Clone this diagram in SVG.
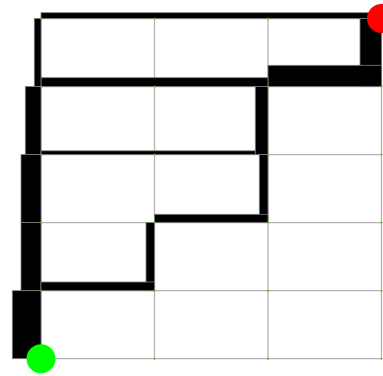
<svg xmlns="http://www.w3.org/2000/svg" width="383" height="376" viewBox="0 0 383 376">
  <style>
    .grid line { stroke: #b4b4b4; stroke-width: 1.3; }
    .wall { fill: #000; stroke: #808080; stroke-width: 0.8; }
    .dot { fill: #33cc00; }
  </style>
  <rect width="383" height="376" fill="#fff"/>
  <g id="grid" class="grid">
    <line x1="41" y1="18.5" x2="41" y2="358.7"/>
    <line x1="154.5" y1="18.5" x2="154.5" y2="358.7"/>
    <line x1="268" y1="18.5" x2="268" y2="358.7"/>
    <line x1="381.5" y1="18.5" x2="381.5" y2="358.7"/>
    <line x1="41" y1="18.5" x2="381.5" y2="18.5"/>
    <line x1="41" y1="86.5" x2="381.5" y2="86.5"/>
    <line x1="41" y1="154.6" x2="381.5" y2="154.6"/>
    <line x1="41" y1="222.6" x2="381.5" y2="222.6"/>
    <line x1="41" y1="290.7" x2="381.5" y2="290.7"/>
    <line x1="41" y1="358.7" x2="381.5" y2="358.7"/>
  </g>
  <g id="connectors">
    <rect class="wall" x="41" y="12.7" width="340.5" height="5.8"/>
    <rect class="wall" x="360" y="18.5" width="21.5" height="68"/>
    <rect class="wall" x="268" y="65.3" width="113.5" height="21.2"/>
    <rect class="wall" x="41" y="77.7" width="227" height="8.8"/>
    <rect class="wall" x="34.3" y="18.5" width="6.7" height="68"/>
    <rect class="wall" x="25.3" y="86.5" width="15.7" height="68.1"/>
    <rect class="wall" x="21" y="154.6" width="20" height="68"/>
    <rect class="wall" x="21" y="222.6" width="20" height="68.1"/>
    <rect class="wall" x="12.3" y="290.7" width="28.7" height="68"/>
    <rect class="wall" x="41" y="150.8" width="227" height="3.8"/>
    <rect class="wall" x="255.3" y="86.5" width="12.7" height="68.1"/>
    <rect class="wall" x="259.3" y="154.6" width="8.7" height="68"/>
    <rect class="wall" x="154.5" y="214.3" width="113.5" height="8.3"/>
    <rect class="wall" x="146" y="222.6" width="8.5" height="68.1"/>
    <rect class="wall" x="41" y="282" width="113.5" height="8.7"/>
  </g>
  <g id="points">
    <circle class="dot" cx="41" cy="18.5" r="1"/><circle class="dot" cx="154.5" cy="18.5" r="1"/><circle class="dot" cx="268" cy="18.5" r="1"/><circle class="dot" cx="381.5" cy="18.5" r="1"/>
    <circle class="dot" cx="41" cy="86.5" r="1"/><circle class="dot" cx="154.5" cy="86.5" r="1"/><circle class="dot" cx="268" cy="86.5" r="1"/><circle class="dot" cx="381.5" cy="86.5" r="1"/>
    <circle class="dot" cx="41" cy="154.6" r="1"/><circle class="dot" cx="154.5" cy="154.6" r="1"/><circle class="dot" cx="268" cy="154.6" r="1"/><circle class="dot" cx="381.5" cy="154.6" r="1"/>
    <circle class="dot" cx="41" cy="222.6" r="1"/><circle class="dot" cx="154.5" cy="222.6" r="1"/><circle class="dot" cx="268" cy="222.6" r="1"/><circle class="dot" cx="381.5" cy="222.6" r="1"/>
    <circle class="dot" cx="41" cy="290.7" r="1"/><circle class="dot" cx="154.5" cy="290.7" r="1"/><circle class="dot" cx="268" cy="290.7" r="1"/><circle class="dot" cx="381.5" cy="290.7" r="1"/>
    <circle class="dot" cx="41" cy="358.7" r="1"/><circle class="dot" cx="154.5" cy="358.7" r="1"/><circle class="dot" cx="268" cy="358.7" r="1"/><circle class="dot" cx="381.5" cy="358.7" r="1"/>
  </g>
  <g id="end">
    <circle cx="381.5" cy="18.5" r="14.5" fill="#ff0000"/>
  </g>
  <g id="start">
    <circle cx="41" cy="358.7" r="14.5" fill="#00ff00"/>
  </g>
</svg>
